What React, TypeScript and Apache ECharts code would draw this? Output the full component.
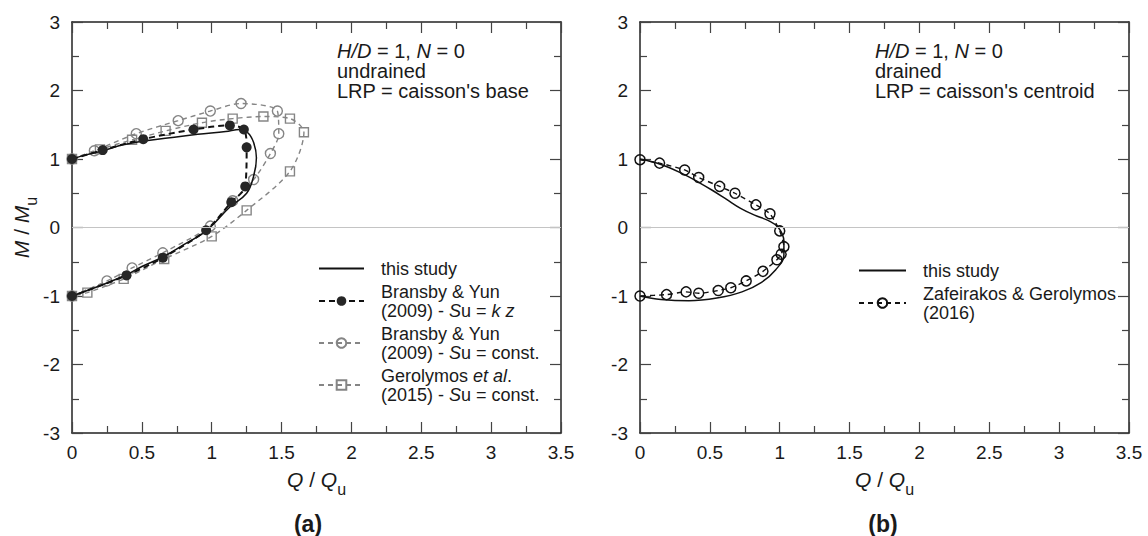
import React, { useEffect, useRef } from "react";
import * as echarts from "echarts";

// ---- data (Q/Qu, M/Mu) ----
const thisStudyA = [[0,1],[0.1,1.06],[0.22,1.12],[0.35,1.2],[0.5,1.26],[0.7,1.31],[0.9,1.36],[1.1,1.4],[1.2,1.43],[1.26,1.38],[1.3,1.24],[1.32,1.02],[1.3,0.75],[1.25,0.5],[1.13,0.3],[0.96,-0.05],[0.8,-0.25],[0.65,-0.43],[0.5,-0.57],[0.39,-0.69],[0.2,-0.85],[0,-1]];
const bransbyKz = [[0,1],[0.22,1.13],[0.51,1.29],[0.87,1.43],[1.13,1.49],[1.23,1.43],[1.25,1.17],[1.24,0.6],[1.14,0.37],[0.96,-0.04],[0.65,-0.44],[0.39,-0.7],[0,-1]];
const bransbyConst = [[0,1],[0.16,1.12],[0.46,1.37],[0.76,1.56],[0.99,1.7],[1.21,1.81],[1.47,1.7],[1.48,1.37],[1.42,1.08],[1.3,0.7],[1.15,0.39],[0.99,0.02],[0.65,-0.37],[0.43,-0.59],[0.25,-0.78],[0,-1]];
const gerolymos = [[0,1],[0.2,1.14],[0.43,1.28],[0.67,1.41],[0.93,1.53],[1.15,1.59],[1.37,1.62],[1.56,1.59],[1.66,1.39],[1.56,0.82],[1.25,0.25],[1.0,-0.13],[0.66,-0.46],[0.37,-0.75],[0.11,-0.95],[0,-1]];
const thisStudyB = [[0,1],[0.15,0.92],[0.3,0.79],[0.42,0.66],[0.52,0.54],[0.62,0.41],[0.72,0.28],[0.82,0.18],[0.92,0.1],[0.99,0.0],[1.03,-0.2],[1.03,-0.4],[0.97,-0.62],[0.87,-0.8],[0.73,-0.94],[0.55,-1.03],[0.35,-1.07],[0.15,-1.05],[0,-1]];
const zafeirakos = [[0,0.99],[0.14,0.94],[0.32,0.84],[0.42,0.73],[0.57,0.6],[0.68,0.5],[0.83,0.33],[0.93,0.2],[1.0,-0.05],[1.03,-0.28],[1.01,-0.39],[0.98,-0.47],[0.88,-0.64],[0.76,-0.78],[0.65,-0.88],[0.56,-0.92],[0.42,-0.96],[0.33,-0.94],[0.19,-0.98],[0,-1.0]];

const xMin = 0, xMax = 3.5, xStep = 0.5;
const yMin = -3, yMax = 3, yStep = 1;

const FONT = "'Liberation Sans', Arial, sans-serif";
const INK = "#1a1a1a";
const GRAY = "#858585";

const legendLabels: Record<string, string> = {
  "this study": "this study",
  "BY kz": "Bransby & Yun\n(2009) - {i|S}u = {i|k z}",
  "BY const": "Bransby & Yun\n(2009) - {i|S}u = const.",
  "Gerolymos": "Gerolymos {i|et al}.\n(2015) - {i|S}u = const.",
  "this study ": "this study",
  "Zafeirakos": "Zafeirakos & Gerolymos\n(2016)",
};

const nameRich = {
  i: { fontStyle: "italic", fontSize: 21, fontFamily: FONT, color: INK, lineHeight: 24 },
  n: { fontSize: 21, fontFamily: FONT, color: INK, lineHeight: 24 },
  sub: { fontSize: 16, fontFamily: FONT, color: INK, lineHeight: 16, padding: [14, 0, 0, 0], verticalAlign: "top" },
};

function mkX(gridIndex: number, main: boolean) {
  return {
    type: "value", gridIndex, min: xMin, max: xMax, interval: xStep,
    position: main ? "bottom" : "top",
    axisLine: { show: true, onZero: false, lineStyle: { color: "#222", width: 1.5 } },
    axisTick: { show: true, inside: true, length: 11, lineStyle: { color: "#444", width: 1.2 } },
    minorTick: { show: true, splitNumber: 2, length: 7, lineStyle: { color: "#444", width: 1.2 } },
    axisLabel: { show: main, margin: 10, fontSize: 19, color: INK, fontFamily: FONT },
    splitLine: { show: false }, minorSplitLine: { show: false },
    name: main ? "{i|Q}{n| / }{i|Q}{sub|u}" : "",
    nameLocation: "middle", nameGap: 34,
    nameTextStyle: { rich: nameRich },
  };
}
function mkY(gridIndex: number, main: boolean, withName: boolean) {
  return {
    type: "value", gridIndex, min: yMin, max: yMax, interval: yStep,
    position: main ? "left" : "right",
    axisLine: { show: true, onZero: false, lineStyle: { color: "#222", width: 1.5 } },
    axisTick: { show: true, inside: true, length: 11, lineStyle: { color: "#444", width: 1.2 } },
    minorTick: { show: true, splitNumber: 2, length: 7, lineStyle: { color: "#444", width: 1.2 } },
    axisLabel: { show: main, margin: 12, fontSize: 19, color: INK, fontFamily: FONT },
    splitLine: { show: false }, minorSplitLine: { show: false },
    name: withName ? "{i|M}{n| / }{i|M}{sub|u}" : "",
    nameLocation: "middle", nameGap: 30, nameRotate: 90,
    nameTextStyle: { rich: nameRich },
  };
}

const zeroLine = {
  silent: true, symbol: "none", label: { show: false },
  lineStyle: { color: "#c4c4c4", type: "solid", width: 1.2 },
  data: [{ yAxis: 0 }],
};

const legendText = {
  fontSize: 18, lineHeight: 19, color: INK, fontFamily: FONT, padding: [0, 0, 0, 12],
  rich: { i: { fontStyle: "italic", fontSize: 18, lineHeight: 19, color: INK, fontFamily: FONT } },
};

const noSymbol = { opacity: 0, color: "rgba(0,0,0,0)", borderWidth: 0 };

export default function App() {
  const ref = useRef<HTMLDivElement>(null);
  useEffect(() => {
    document.body.style.margin = "0";
    const chart = echarts.init(ref.current!, undefined, { renderer: "svg" });
    const option = {
      animation: false,
      backgroundColor: "#fff",
      grid: [
        { left: 72, top: 22, width: 489, height: 411 },
        { left: 640, top: 22, width: 489, height: 411 },
      ],
      xAxis: [mkX(0, true), mkX(0, false), mkX(1, true), mkX(1, false)],
      yAxis: [mkY(0, true, true), mkY(0, false, false), mkY(1, true, false), mkY(1, false, false)],
      legend: [
        {
          left: 313, top: 254, orient: "vertical", itemWidth: 45, itemHeight: 12, itemGap: 4,
          data: [{ name: "this study", itemStyle: noSymbol }, "BY kz", "BY const", "Gerolymos"],
          formatter: (n: string) => legendLabels[n], textStyle: legendText, selectedMode: false,
        },
        {
          left: 853, top: 256, orient: "vertical", itemWidth: 47, itemHeight: 12, itemGap: 4,
          data: [{ name: "this study ", itemStyle: noSymbol }, "Zafeirakos"],
          formatter: (n: string) => legendLabels[n], textStyle: legendText, selectedMode: false,
        },
      ],
      series: [
        {
          name: "this study", type: "line", xAxisIndex: 0, yAxisIndex: 0, data: thisStudyA,
          symbol: "none", smooth: 0.4, z: 3,
          lineStyle: { color: "#111", width: 1.5 }, itemStyle: { color: "#111" },
          markLine: zeroLine,
        },
        {
          name: "BY kz", type: "line", xAxisIndex: 0, yAxisIndex: 0, data: bransbyKz,
          symbol: "circle", symbolSize: 10, smooth: 0.3, z: 4,
          lineStyle: { color: "#111", width: 2, type: [6, 4] },
          itemStyle: { color: "#262626", borderColor: "#262626", borderWidth: 0 },
        },
        {
          name: "BY const", type: "line", xAxisIndex: 0, yAxisIndex: 0, data: bransbyConst,
          symbol: "circle", symbolSize: 10, smooth: 0.3, z: 2,
          lineStyle: { color: GRAY, width: 1.4, type: [5, 4] },
          itemStyle: { color: "rgba(255,255,255,0)", borderColor: GRAY, borderWidth: 1.4 },
        },
        {
          name: "Gerolymos", type: "line", xAxisIndex: 0, yAxisIndex: 0, data: gerolymos,
          symbol: "rect", symbolSize: 9, smooth: 0.3, z: 2,
          lineStyle: { color: GRAY, width: 1.4, type: [5, 4] },
          itemStyle: { color: "rgba(255,255,255,0)", borderColor: GRAY, borderWidth: 1.4 },
        },
        {
          name: "this study ", type: "line", xAxisIndex: 2, yAxisIndex: 2, data: thisStudyB,
          symbol: "none", smooth: 0.4, z: 3,
          lineStyle: { color: "#111", width: 1.5 }, itemStyle: { color: "#111" },
          markLine: zeroLine,
        },
        {
          name: "Zafeirakos", type: "line", xAxisIndex: 2, yAxisIndex: 2, data: zafeirakos,
          symbol: "circle", symbolSize: 10, smooth: 0.2, z: 4,
          lineStyle: { color: "#111", width: 1.4, type: [5, 4] },
          itemStyle: { color: "rgba(255,255,255,0)", borderColor: "#111", borderWidth: 1.5 },
        },
      ],
      graphic: [
        {
          type: "text", left: 337, top: 41, silent: true,
          style: {
            text: "{i|H/D} = 1, {i|N} = 0\nundrained\nLRP = caisson's base",
            fontSize: 20, lineHeight: 20, fill: INK, fontFamily: FONT,
            rich: { i: { fontStyle: "italic", fontSize: 20, lineHeight: 20, fontFamily: FONT, fill: INK } },
          },
        },
        {
          type: "text", left: 875, top: 41, silent: true,
          style: {
            text: "{i|H/D} = 1, {i|N} = 0\ndrained\nLRP = caisson's centroid",
            fontSize: 20, lineHeight: 20, fill: INK, fontFamily: FONT,
            rich: { i: { fontStyle: "italic", fontSize: 20, lineHeight: 20, fontFamily: FONT, fill: INK } },
          },
        },
        {
          type: "text", x: 308, y: 524, silent: true,
          style: { text: "(a)", fontSize: 23, fontWeight: "bold", fill: INK, fontFamily: FONT, align: "center", verticalAlign: "middle" },
        },
        {
          type: "text", x: 883, y: 524, silent: true,
          style: { text: "(b)", fontSize: 23, fontWeight: "bold", fill: INK, fontFamily: FONT, align: "center", verticalAlign: "middle" },
        },
      ],
    };
    chart.setOption(option as any);
    return () => chart.dispose();
  }, []);
  return <div ref={ref} style={{ width: 1148, height: 536 }} />;
}
